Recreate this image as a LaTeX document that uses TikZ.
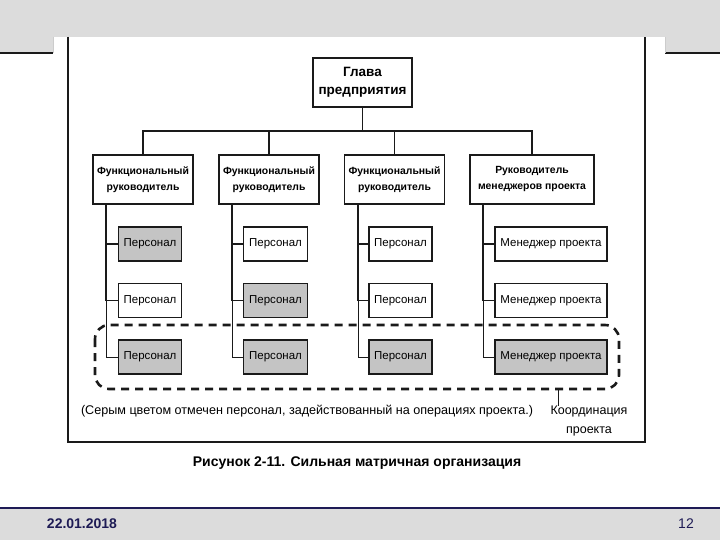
\documentclass[tikz,border=0pt]{standalone}
\usepackage{fontspec}
\setmainfont{Liberation Sans}
\definecolor{bandgray}{HTML}{DCDCDC}
\definecolor{boxgray}{HTML}{C4C4C4}
\definecolor{navy}{HTML}{1E1B55}
\definecolor{ink}{HTML}{1A1A1A}
\begin{document}
\begin{tikzpicture}[x=1pt,y=-1pt,
  topbox/.style={draw=ink,line width=1.6pt,fill=white,minimum width=99pt,minimum height=49pt,inner sep=0pt,align=center,font=\fontsize{13.5}{18}\selectfont\bfseries},
  mgrbox/.style={draw=ink,line width=1.6pt,fill=white,minimum height=49pt,inner sep=0pt,align=center,font=\fontsize{10.4}{16}\selectfont\bfseries},
  staffbox/.style={draw=ink,line width=1.6pt,fill=white,minimum height=34pt,inner sep=0pt,align=center,font=\fontsize{11.5}{13}\selectfont},
  grayfill/.style={fill=boxgray},
  link/.style={draw=ink,line width=1.3pt},
  thinlink/.style={draw=ink,line width=0.8pt},
  coord/.style={draw=ink,line width=2.6pt,dash pattern=on 8pt off 6pt,rounded corners=14pt}
]
\useasboundingbox (0,0) rectangle (720,540);
% slide background bands
\fill[bandgray] (0,0) rectangle (720,37);
\fill[bandgray] (0,37) rectangle (53,53);
\fill[bandgray] (665,37) rectangle (720,53);
\draw[ink,line width=1.2pt] (0,53) -- (53,53);
\draw[ink,line width=1.2pt] (665,53) -- (720,53);
\draw[gray!40,line width=0.6pt] (53,37) -- (53,53);
\draw[gray!40,line width=0.6pt] (665,37) -- (665,53);
\fill[bandgray] (0,508) rectangle (720,540);
\draw[navy,line width=1.2pt] (0,508) -- (720,508);
% frame of the figure
\draw[ink,line width=1.8pt] (68,37) -- (68,442) -- (645,442) -- (645,37);

% nodes
\node[topbox] (g) at (362.5,82.5) {Глава\\предприятия};
\node[mgrbox,minimum width=100pt] (f1) at (143,179.5) {Функциональный\\руководитель};
\node[mgrbox,minimum width=100pt] (f2) at (269,179.5) {Функциональный\\руководитель};
\node[mgrbox,minimum width=100pt] (f3) at (394.5,179.5) {Функциональный\\руководитель};
\node[mgrbox,minimum width=124pt] (f4) at (532,179.5) {Руководитель\\менеджеров проекта};

\node[staffbox,minimum width=63pt,grayfill] (p11) at (150,244) {Персонал};
\node[staffbox,minimum width=63pt] (p12) at (150,300.5) {Персонал};
\node[staffbox,minimum width=63pt,grayfill] (p13) at (150,357) {Персонал};
\node[staffbox,minimum width=64pt] (p21) at (275.5,244) {Персонал};
\node[staffbox,minimum width=64pt,grayfill] (p22) at (275.5,300.5) {Персонал};
\node[staffbox,minimum width=64pt,grayfill] (p23) at (275.5,357) {Персонал};
\node[staffbox,minimum width=63pt] (p31) at (400.5,244) {Персонал};
\node[staffbox,minimum width=63pt] (p32) at (400.5,300.5) {Персонал};
\node[staffbox,minimum width=63pt,grayfill] (p33) at (400.5,357) {Персонал};
\node[staffbox,minimum width=112pt] (p41) at (551,244) {Менеджер проекта};
\node[staffbox,minimum width=112pt] (p42) at (551,300.5) {Менеджер проекта};
\node[staffbox,minimum width=112pt,grayfill] (p43) at (551,357) {Менеджер проекта};

% hierarchy connectors
\coordinate (bus) at (362.5,131);
\draw[thinlink] (g.south) -- (bus);
\draw[link] (f1.north) |- (bus);
\draw[link] (f4.north) |- (bus);
\draw[link] (f2.north) -- (f2.north |- bus);
\draw[link] (f3.north) -- (f3.north |- bus);

% trunks from managers to staff
\coordinate (t1) at (106,204);
\coordinate (t2) at (232,204);
\coordinate (t3) at (358,204);
\coordinate (t4) at (483,204);
\foreach \c in {1,2,3,4}{
  \draw[link] (t\c) |- (p\c1.west);
  \draw[link] (t\c) |- (p\c2.west);
  \draw[thinlink] (t\c) |- (p\c3.west);
}

% project coordination boundary
\draw[coord] (95,325) rectangle (619,389);
\coordinate (tickTop) at (558,389);
\node[font=\fontsize{12.5}{19}\selectfont,align=center,inner sep=0pt] (coordlbl) at (589,421) {Координация\\проекта};
\draw[thinlink] (tickTop) -- (tickTop |- coordlbl.north);

\node[font=\fontsize{12.6}{14}\selectfont,inner sep=0pt] (note) at (307,411) {(Серым цветом отмечен персонал, задействованный на операциях проекта.)};

\node[font=\fontsize{14}{16}\selectfont\bfseries,inner sep=0pt] (cap) at (357,463) {Рисунок 2-11. Сильная матричная организация};

\node[font=\fontsize{14}{16}\selectfont\bfseries,text=navy,inner sep=0pt] (date) at (82,524) {22.01.2018};
\node[font=\fontsize{14}{16}\selectfont,text=navy,inner sep=0pt] (pg) at (686,524) {12};
\end{tikzpicture}
\end{document}
